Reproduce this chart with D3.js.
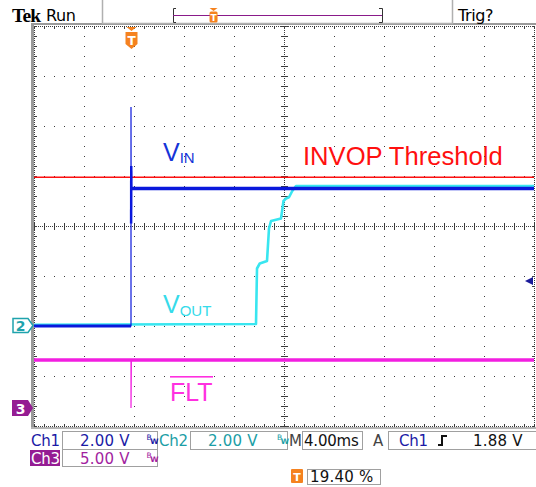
<!DOCTYPE html>
<html>
<head>
<meta charset="utf-8">
<script src="https://cdn.jsdelivr.net/npm/d3@7"></script>
<style>
  html, body { margin: 0; padding: 0; background: #fff; }
  svg { display: block; }
</style>
</head>
<body>
<div id="chart"></div>
<script>
// ---------------- data ----------------
const msPerDiv = 4.00;          // M 4.00ms
const triggerPct = 19.40;       // trigger position %
const trigLevel = 1.88;         // Ch1 trigger level (V)
const thresholdV = 5.95;        // INVOP threshold, on Ch1 scale (V)

const chVoltsPerDiv = [2.00, 2.00, 5.00];   // Ch1, Ch2, Ch3
const chPosition = [-2.0, -2.0, -3.64];     // ground position (divisions from centre)

// Ch1 (VIN)
const ch1Time = [-7.76, 0, 0, 0.01, 0.02, 0.03, 0.04, 0.06, 32.24];
const ch1Volt = [0.0, 0.0, 8.76, 4.1, 6.4, 4.3, 6.2, 5.5, 5.5];
// Ch2 (VOUT)
const ch2Time = [-7.76, 10.0, 10.08, 10.3, 10.88, 11.04, 11.2, 12.0, 12.2, 12.4, 12.64, 12.9, 13.2, 32.24];
const ch2Volt = [0.05, 0.08, 2.3, 2.5, 2.6, 3.9, 4.2, 4.3, 5.0, 5.1, 5.15, 5.4, 5.6, 5.6];
// Ch3 (FLT)
const ch3Time = [-7.76, 0, 0, 0.03, 32.24];
const ch3Volt = [4.8, 4.8, 0.0, 4.8, 4.8];

// status texts
const statusRow1 = ["Ch1", "2.00 V", "Ch2", "2.00 V", "M", "4.00ms", "A", "Ch1", "1.88 V"];
const statusRow2 = ["Ch3", "5.00 V"];
const triggerPosLabel = "19.40 %";

// ---------------- drawing ----------------
(function () {
const W = 536, H = 487;
const svg = d3.select("#chart").append("svg").attr("width", W).attr("height", H)
  .style("background", "#fff");

const pL = 34, pR = 534, pT = 26, pB = 426;
const totalMs = msPerDiv * 10;
const t0 = -triggerPct / 100 * totalMs;
const x = d3.scaleLinear().domain([t0, t0 + totalMs]).range([pL, pR]);
const yDiv = d3.scaleLinear().domain([-4, 4]).range([pB, pT]);
const xDiv = d3.scaleLinear().domain([0, 10]).range([pL, pR]);
const yCh = (ch, v) => yDiv(chPosition[ch] + v / chVoltsPerDiv[ch]);

const COL = {
  ch1: "#0a18dc", ch2: "#38e6f0", ch3: "#f21ee0", red: "#ff1010",
  orange: "#f5821f", purple: "#951c93", grid: "#3c3c3c", frame: "#9a9a9a"
};

// --- frame ---
svg.append("rect").attr("x", 31).attr("y", 23).attr("width", W - 31).attr("height", 2).attr("fill", COL.frame);
svg.append("rect").attr("x", 31).attr("y", 23).attr("width", 3).attr("height", 406).attr("fill", COL.frame);
svg.append("rect").attr("x", 31).attr("y", 427).attr("width", W - 31).attr("height", 2).attr("fill", "#b4b4b4");

// --- graticule ---
const g = svg.append("g").attr("shape-rendering", "crispEdges").attr("fill", COL.grid);
const dot = (px, py, w = 1, h = 1) => g.append("rect").attr("x", Math.round(px)).attr("y", Math.round(py)).attr("width", w).attr("height", h);

d3.range(1, 10).filter(i => i !== 5).forEach(i => {
  d3.range(0, 41).forEach(k => dot(xDiv(i), pT + k * 10));
});
d3.range(-3, 4).filter(j => j !== 0).forEach(j => {
  d3.range(0, 51).forEach(k => dot(pL + k * 10, yDiv(j)));
});
d3.range(pL, pR + 1, 2).forEach(px => dot(px, yDiv(0)));
d3.range(pT, pB + 1, 2).forEach(py => dot(xDiv(5), py));
d3.range(0, 51).forEach(k => dot(pL + k * 10, yDiv(0) - 3, 1, 7));
d3.range(0, 41).forEach(k => dot(xDiv(5) - 3, pT + k * 10, 7, 1));
d3.range(pL, pR + 1, 2).forEach(px => { dot(px, pT); dot(px, pB); });
d3.range(pT, pB + 1, 2).forEach(py => { dot(pL, py); dot(pR, py); });
d3.range(0, 51).forEach(k => { dot(pL + k * 10, pT, 1, 3); dot(pL + k * 10, pB - 2, 1, 3); });
d3.range(0, 41).forEach(k => { dot(pL, pT + k * 10, 3, 1); dot(pR - 2, pT + k * 10, 3, 1); });

// --- traces ---
const line = ch => d3.line().x(d => x(d[0])).y(d => yCh(ch, d[1]));
const zip = (a, b) => a.map((v, i) => [v, b[i]]);

svg.append("line").attr("x1", pL).attr("x2", pR).attr("y1", yCh(0, thresholdV)).attr("y2", yCh(0, thresholdV))
  .attr("stroke", COL.red).attr("stroke-width", 1.3);

// Ch3
svg.append("path").attr("d", line(2)(zip(ch3Time, ch3Volt))).attr("fill", "none")
  .attr("stroke", COL.ch3).attr("stroke-width", 1.2);
svg.append("path").attr("d", line(2)([[ch3Time[0], ch3Volt[0]], [ch3Time[ch3Time.length - 1], ch3Volt[ch3Volt.length - 1]]]))
  .attr("fill", "none").attr("stroke", COL.ch3).attr("stroke-width", 3.5);

// Ch2
svg.append("path").attr("d", line(1)(zip(ch2Time, ch2Volt))).attr("fill", "none")
  .attr("stroke", COL.ch2).attr("stroke-width", 2.6).attr("stroke-linejoin", "round");

// Ch1
svg.append("path").attr("d", line(0)(zip(ch1Time, ch1Volt))).attr("fill", "none")
  .attr("stroke", COL.ch1).attr("stroke-width", 1.2);
svg.append("path").attr("d", line(0)([[ch1Time[0], ch1Volt[0]], [ch1Time[1], ch1Volt[1]]]))
  .attr("fill", "none").attr("stroke", COL.ch1).attr("stroke-width", 3);
svg.append("path").attr("d", line(0)([[ch1Time[7], ch1Volt[7]], [ch1Time[8], ch1Volt[8]]]))
  .attr("fill", "none").attr("stroke", COL.ch1).attr("stroke-width", 3.5);
svg.append("path").attr("d", line(0)([[ch1Time[3], ch1Volt[3]], [ch1Time[4], ch1Volt[4]]]))
  .attr("fill", "none").attr("stroke", COL.ch1).attr("stroke-width", 2.5);

// --- trace labels ---
const lab = svg.append("g").attr("font-family", "'Liberation Sans', Arial, sans-serif");
const vin = lab.append("text").attr("x", 163).attr("y", 161).attr("fill", "#1534d8").attr("font-size", 25);
vin.append("tspan").text("V");
vin.append("tspan").attr("font-size", 15).attr("dy", 2).text("IN");
lab.append("text").attr("x", 303).attr("y", 165).attr("fill", COL.red).attr("font-size", 25.6).text("INVOP Threshold");
const vout = lab.append("text").attr("x", 163).attr("y", 313).attr("fill", "#36dbea").attr("font-size", 25);
vout.append("tspan").text("V");
vout.append("tspan").attr("font-size", 15).attr("dy", 3).text("OUT");
lab.append("text").attr("x", 170).attr("y", 401).attr("fill", "#ff30e0").attr("font-size", 25).text("FLT");
lab.append("rect").attr("x", 170).attr("y", 376).attr("width", 43).attr("height", 1.6).attr("fill", "#ff30e0");

// --- channel markers ---
const y2 = Math.round(yCh(1, 0)) - 0.5;
svg.append("path").attr("d", `M13,${y2 - 7} H28 L33,${y2} L28,${y2 + 7} H13 Z`)
  .attr("fill", "#fff").attr("stroke", "#1fa3ad").attr("stroke-width", 1.5);
svg.append("text").attr("x", 20.5).attr("y", y2 + 5.5).attr("text-anchor", "middle").attr("fill", "#1fa3ad")
  .attr("font-family", "'DejaVu Sans', sans-serif").attr("font-size", 14).attr("font-weight", "bold").text("2");
const y3 = Math.round(yCh(2, 0));
svg.append("path").attr("d", `M12,${y3 - 8} H28 L33,${y3} L28,${y3 + 8} H12 Z`).attr("fill", COL.purple);
svg.append("text").attr("x", 20.5).attr("y", y3 + 5.5).attr("text-anchor", "middle").attr("fill", "#fff")
  .attr("font-family", "'DejaVu Sans', sans-serif").attr("font-size", 14).attr("font-weight", "bold").text("3");
const yT = yCh(0, trigLevel) + 2;
svg.append("path").attr("d", `M525,${yT} L533,${yT - 4} L533,${yT + 4} Z`).attr("fill", "#1a1a9a");

const tx = Math.round(x(0)) + 0.5;
svg.append("path").attr("d", `M${tx - 5},27 H${tx + 5} L${tx},31 Z`).attr("fill", COL.orange);
svg.append("path").attr("d", `M${tx - 6},32 H${tx + 6} V44 L${tx},49 L${tx - 6},44 Z`).attr("fill", COL.orange);
svg.append("text").attr("x", tx).attr("y", 45).attr("text-anchor", "middle").attr("fill", "#fff")
  .attr("font-family", "'DejaVu Sans', sans-serif").attr("font-size", 12).attr("font-weight", "bold").text("T");

// --- top bar ---
const tb = svg.append("g");
tb.append("text").attr("x", 12).attr("y", 22).attr("font-family", "'Liberation Serif', 'Times New Roman', serif")
  .attr("font-weight", "bold").attr("font-size", 19.5).attr("letter-spacing", -0.8).attr("fill", "#000").text("Tek");
tb.append("text").attr("x", 46).attr("y", 21).attr("font-family", "'DejaVu Sans', sans-serif")
  .attr("font-size", 16).attr("letter-spacing", -0.4).attr("fill", "#000").text("Run");
tb.append("text").attr("x", 458).attr("y", 21).attr("font-family", "'DejaVu Sans', sans-serif")
  .attr("font-size", 16).attr("letter-spacing", -0.4).attr("fill", "#000").text("Trig?");
tb.append("path").attr("d", "M102.5,0 V23.5 H452.5 V0").attr("fill", "none").attr("stroke", "#b0b0b0").attr("stroke-width", 1.5);
const bx0 = 173, bx1 = 382;
tb.append("path").attr("d", `M${bx0 + 3},8.5 H${bx0}.5 V22.5 H${bx0 + 3}`).attr("fill", "none").attr("stroke", "#333").attr("stroke-width", 1);
tb.append("path").attr("d", `M${bx1 - 3},8.5 H${bx1}.5 V22.5 H${bx1 - 3}`).attr("fill", "none").attr("stroke", "#333").attr("stroke-width", 1);
tb.append("line").attr("x1", bx0).attr("x2", bx1).attr("y1", 15.5).attr("y2", 15.5).attr("stroke", "#8a1a8a").attr("stroke-width", 1.2);
const smallT = bx0 + (bx1 - bx0) * triggerPct / 100;
tb.append("path").attr("d", `M${smallT - 4},8 H${smallT + 4} L${smallT},11 Z`).attr("fill", COL.orange);
tb.append("rect").attr("x", smallT - 4).attr("y", 11.5).attr("width", 8).attr("height", 11).attr("rx", 1.5).attr("fill", COL.orange);
tb.append("text").attr("x", smallT).attr("y", 20.5).attr("text-anchor", "middle").attr("fill", "#fff")
  .attr("font-family", "'DejaVu Sans', sans-serif").attr("font-size", 9).attr("font-weight", "bold").text("T");

// --- status bar ---
const sb = svg.append("g").attr("font-family", "'DejaVu Sans', Verdana, sans-serif").attr("font-size", 15);
const box = (x0, y0, w, h) => sb.append("rect").attr("x", x0 + 0.5).attr("y", y0 + 0.5).attr("width", w).attr("height", h)
  .attr("fill", "none").attr("stroke", "#a0a0a0").attr("stroke-width", 1);
box(62, 431, 95, 18);
box(190, 431, 97, 18);
box(302, 431, 60, 18);
box(388, 431, 160, 18);
box(62, 449, 95, 17);
box(307, 469, 73, 15);

const txt = (s, x0, y0, col, ls) => sb.append("text").attr("x", x0).attr("y", y0).attr("fill", col)
  .attr("letter-spacing", ls || 0).text(s);
txt(statusRow1[0], 31, 445.5, "#1a1aa6", -0.3);
txt(statusRow1[1], 80, 445.5, "#1a1aa6", 0.2);
txt(statusRow1[2], 159, 445.5, "#1b9ea6", -0.3);
txt(statusRow1[3], 208, 445.5, "#1b9ea6", 0.2);
txt(statusRow1[4], 289, 445.5, "#444", -0.3);
txt(statusRow1[5], 304, 445.5, "#111", -0.2);
txt(statusRow1[6], 373, 445.5, "#444");
txt(statusRow1[7], 399, 445.5, "#1a1aa6", -0.3);
txt(statusRow1[8], 473, 445.5, "#111", 0.2);
sb.append("path").attr("d", "M438,445 H442 V436 H447").attr("fill", "none").attr("stroke", "#111").attr("stroke-width", 2);
const bw = (x0, y0, col) => {
  const t = sb.append("text").attr("x", x0).attr("y", y0).attr("font-size", 7.5).attr("fill", col);
  t.append("tspan").text("B");
  t.append("tspan").attr("dx", -1.5).attr("dy", 4).attr("font-weight", "bold").text("W");
};
bw(146.5, 440, "#1a1aa6");
bw(277, 440, "#1b9ea6");
bw(146.5, 458, "#a21ea0");
sb.append("rect").attr("x", 30).attr("y", 450).attr("width", 30).attr("height", 16).attr("fill", COL.purple);
txt(statusRow2[0], 31, 463.5, "#fff", -0.3);
txt(statusRow2[1], 80, 463.5, "#a21ea0", 0.2);
sb.append("rect").attr("x", 291).attr("y", 469).attr("width", 12).attr("height", 14).attr("rx", 1).attr("fill", COL.orange);
sb.append("text").attr("x", 297).attr("y", 481).attr("text-anchor", "middle").attr("font-size", 11).attr("font-weight", "bold")
  .attr("fill", "#fff").text("T");
txt(triggerPosLabel, 310, 481.5, "#111", 0.2);
})();
</script>
</body>
</html>
